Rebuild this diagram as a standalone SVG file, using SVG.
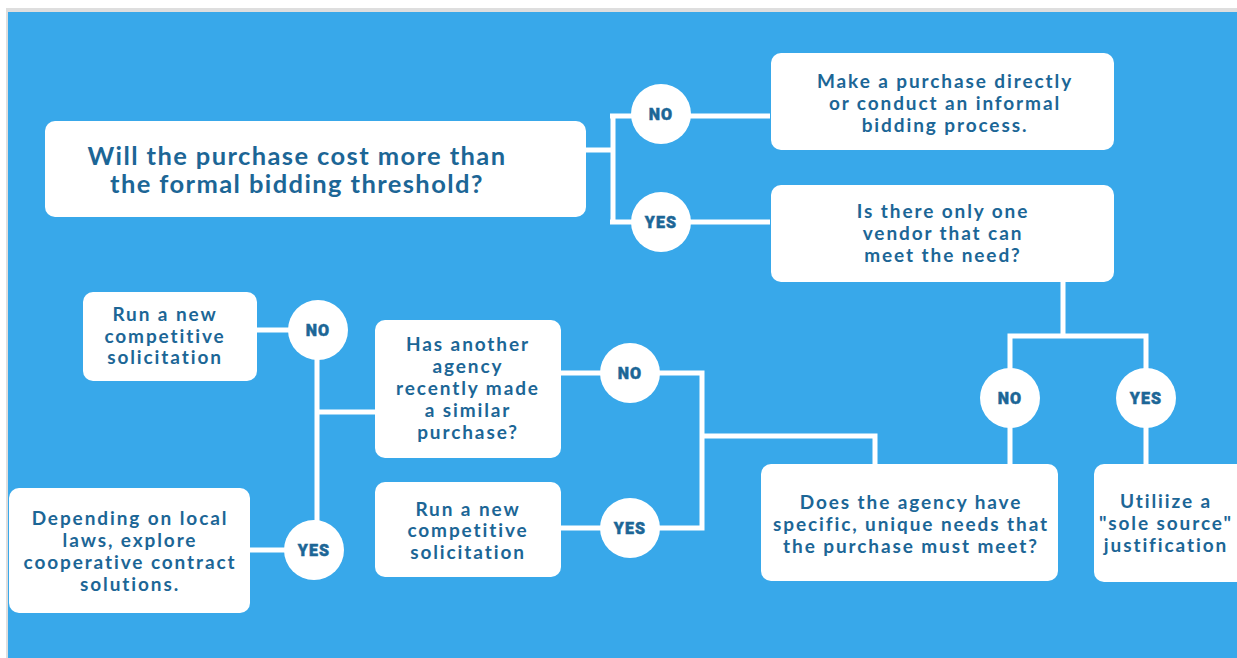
<svg xmlns="http://www.w3.org/2000/svg" width="1237" height="658" viewBox="0 0 1237 658">
  <style>
    .box { fill: #ffffff; }
    .link { fill: none; stroke: #ffffff; stroke-width: 5; stroke-linecap: butt; stroke-linejoin: miter; }
    .dot { fill: #ffffff; }
    .q { font-family: Lato, "Liberation Sans", sans-serif; font-weight: 700; fill: #1c6696; text-anchor: middle; }
    .big { font-size: 25.5px; letter-spacing: 1.4px; }
    .mid { font-size: 19px; letter-spacing: 1.9px; }
    .tag { font-family: Roboto, Lato, "Liberation Sans", sans-serif; font-weight: 900; font-size: 16px; letter-spacing: 1.2px; fill: #1c6696; stroke: #1c6696; stroke-width: 0.5; text-anchor: middle; }
  </style>

  <!-- page frame -->
  <rect x="0" y="0" width="1237" height="658" fill="#ffffff"/>
  <rect x="6" y="8" width="1231" height="650" fill="#dedede"/>
  <rect x="8" y="12" width="1229" height="646" fill="#38a8ea"/>

  <!-- connectors -->
  <g id="connectors" class="link">
    <path d="M586 150 H613 M613 114 V222 M610 116 H770 M610 222 H770"/>
    <path d="M1063 282 V336 M1010 336 H1146 M1010 333.5 V465 M1146 333.5 V465"/>
    <path d="M561 373 H702 V528 H561 M700 436 H875 V465"/>
    <path d="M257 330 H318 M317 330 V550 H250 M317 412 H376"/>
  </g>

  <!-- decision badges -->
  <g id="n-no1"><circle class="dot" cx="661" cy="114" r="30"/><text class="tag" x="661" y="120">NO</text></g>
  <g id="n-yes1"><circle class="dot" cx="661" cy="222" r="30"/><text class="tag" x="661" y="228">YES</text></g>
  <g id="n-no2"><circle class="dot" cx="1010" cy="398" r="30"/><text class="tag" x="1010" y="404">NO</text></g>
  <g id="n-yes2"><circle class="dot" cx="1146" cy="398" r="30"/><text class="tag" x="1146" y="404">YES</text></g>
  <g id="n-no3"><circle class="dot" cx="630" cy="373" r="30"/><text class="tag" x="630" y="379">NO</text></g>
  <g id="n-yes3"><circle class="dot" cx="630" cy="528" r="30"/><text class="tag" x="630" y="534">YES</text></g>
  <g id="n-no4"><circle class="dot" cx="318" cy="330" r="30"/><text class="tag" x="318" y="336">NO</text></g>
  <g id="n-yes4"><circle class="dot" cx="314" cy="550" r="30"/><text class="tag" x="314" y="556">YES</text></g>

  <!-- boxes -->
  <g id="n-threshold">
    <rect class="box" x="45" y="121" width="541" height="96" rx="10"/>
    <text class="q big" x="297" y="165">Will the purchase cost more than</text>
    <text class="q big" x="297" y="193">the formal bidding threshold?</text>
  </g>

  <g id="n-informal">
    <rect class="box" x="771" y="53" width="343" height="97" rx="10"/>
    <text class="q mid" x="945" y="88">Make a purchase directly</text>
    <text class="q mid" x="945" y="110">or conduct an informal</text>
    <text class="q mid" x="945" y="132">bidding process.</text>
  </g>

  <g id="n-vendor">
    <rect class="box" x="771" y="185" width="343" height="97" rx="10"/>
    <text class="q mid" x="943" y="218">Is there only one</text>
    <text class="q mid" x="943" y="240">vendor that can</text>
    <text class="q mid" x="943" y="262">meet the need?</text>
  </g>

  <g id="n-unique">
    <rect class="box" x="761" y="464" width="297" height="117" rx="10"/>
    <text class="q mid" x="911" y="509">Does the agency have</text>
    <text class="q mid" x="911" y="531">specific, unique needs that</text>
    <text class="q mid" x="911" y="553">the purchase must meet?</text>
  </g>

  <g id="n-sole">
    <rect class="box" x="1094" y="464" width="153" height="118" rx="10"/>
    <text class="q mid" x="1166" y="508">Utiliize a</text>
    <text class="q mid" x="1166" y="530">"sole source"</text>
    <text class="q mid" x="1166" y="552">justification</text>
  </g>

  <g id="n-other-agency">
    <rect class="box" x="375" y="320" width="186" height="138" rx="10"/>
    <text class="q mid" x="468" y="351">Has another</text>
    <text class="q mid" x="468" y="373">agency</text>
    <text class="q mid" x="468" y="395">recently made</text>
    <text class="q mid" x="468" y="417">a similar</text>
    <text class="q mid" x="468" y="439">purchase?</text>
  </g>

  <g id="n-solicit-mid">
    <rect class="box" x="375" y="482" width="186" height="95" rx="10"/>
    <text class="q mid" x="468" y="516">Run a new</text>
    <text class="q mid" x="468" y="537">competitive</text>
    <text class="q mid" x="468" y="559">solicitation</text>
  </g>

  <g id="n-solicit-left">
    <rect class="box" x="83" y="292" width="174" height="89" rx="10"/>
    <text class="q mid" x="165" y="321">Run a new</text>
    <text class="q mid" x="165" y="343">competitive</text>
    <text class="q mid" x="165" y="364">solicitation</text>
  </g>

  <g id="n-coop">
    <rect class="box" x="9" y="488" width="241" height="125" rx="10"/>
    <text class="q mid" x="130" y="525">Depending on local</text>
    <text class="q mid" x="130" y="547">laws, explore</text>
    <text class="q mid" x="130" y="569">cooperative contract</text>
    <text class="q mid" x="130" y="591">solutions.</text>
  </g>
</svg>
